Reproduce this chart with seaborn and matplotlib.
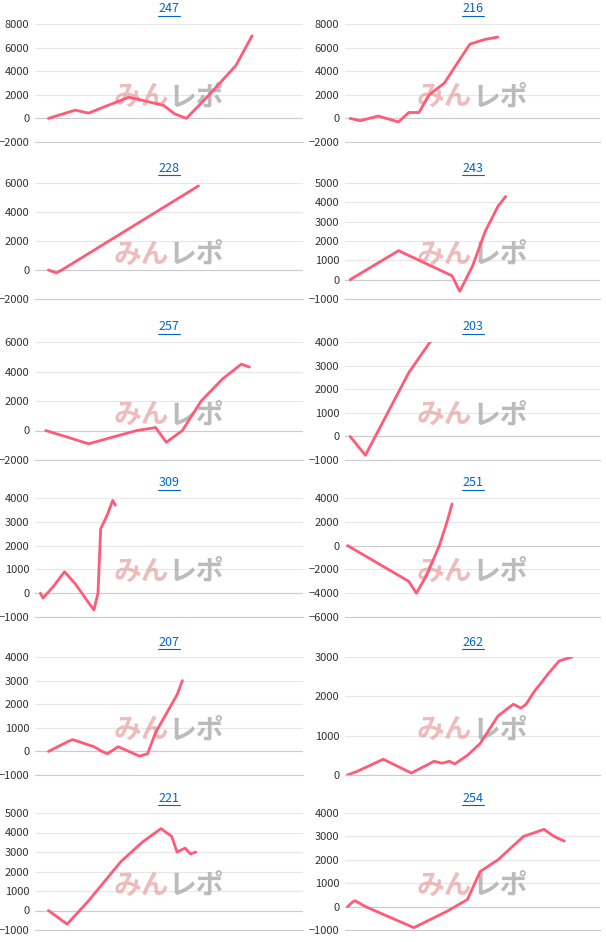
import matplotlib
matplotlib.use("Agg")
import matplotlib.pyplot as plt
import seaborn as sns
import pandas as pd

sns.set_style("white")
plt.rcParams['font.family'] = ['Noto Sans CJK JP', 'DejaVu Sans']

# Datos (posición relativa en el eje x, diferencia de fichas)
titles = ["247", "216", "228", "243", "257", "203", "309", "251", "207", "262", "221", "254"]
x247 = [0.05, 0.15, 0.2, 0.35, 0.48, 0.52, 0.565, 0.65, 0.75, 0.81]
y247 = [0, 700, 450, 1800, 1100, 400, 0, 2000, 4500, 7000]
x216 = [0.02, 0.06, 0.13, 0.21, 0.25, 0.29, 0.33, 0.39, 0.45, 0.49, 0.55, 0.6]
y216 = [0, -200, 200, -300, 500, 500, 2000, 3000, 5000, 6300, 6700, 6900]
x228 = [0.05, 0.08, 0.1, 0.61]
y228 = [0, -200, 0, 5800]
x243 = [0.02, 0.21, 0.42, 0.45, 0.5, 0.55, 0.6, 0.63]
y243 = [0, 1500, 200, -600, 700, 2500, 3800, 4300]
x257 = [0.04, 0.13, 0.2, 0.28, 0.38, 0.45, 0.49, 0.55, 0.62, 0.7, 0.77, 0.8]
y257 = [0, -500, -900, -500, 0, 200, -800, 0, 2000, 3500, 4500, 4300]
x203 = [0.02, 0.08, 0.25, 0.34]
y203 = [0, -800, 2700, 4100]
x309 = [0.02, 0.03, 0.07, 0.11, 0.15, 0.2, 0.22, 0.235, 0.245, 0.27, 0.29, 0.3]
y309 = [0, -200, 300, 900, 400, -400, -700, 0, 2700, 3300, 3900, 3700]
x251 = [0.01, 0.25, 0.28, 0.32, 0.37, 0.4, 0.42]
y251 = [0, -3000, -4000, -2500, 0, 2000, 3500]
x207 = [0.05, 0.12, 0.14, 0.22, 0.25, 0.27, 0.31, 0.35, 0.39, 0.42, 0.45, 0.5, 0.53, 0.55]
y207 = [0, 400, 500, 200, 0, -100, 200, 0, -200, -100, 800, 1800, 2400, 3000]
x262 = [0.01, 0.05, 0.15, 0.26, 0.35, 0.38, 0.41, 0.43, 0.48, 0.53, 0.6, 0.66, 0.69, 0.71, 0.74, 0.8, 0.84, 0.89]
y262 = [0, 100, 400, 50, 350, 300, 350, 280, 500, 800, 1500, 1800, 1700, 1800, 2100, 2600, 2900, 3000]
x221 = [0.05, 0.12, 0.2, 0.32, 0.4, 0.47, 0.51, 0.53, 0.56, 0.58, 0.6]
y221 = [0, -700, 500, 2500, 3500, 4200, 3800, 3000, 3200, 2900, 3000]
x254 = [0.01, 0.03, 0.04, 0.08, 0.27, 0.4, 0.48, 0.53, 0.6, 0.7, 0.78, 0.82, 0.86]
y254 = [0, 200, 250, 0, -900, -200, 300, 1500, 2000, 3000, 3300, 3000, 2800]

series = [(x247, y247), (x216, y216), (x228, y228), (x243, y243), (x257, y257), (x203, y203),
          (x309, y309), (x251, y251), (x207, y207), (x262, y262), (x221, y221), (x254, y254)]
ylims = [(-2000, 8000, 2000), (-2000, 8000, 2000), (-2000, 6000, 2000), (-1000, 5000, 1000),
         (-2000, 6000, 2000), (-1000, 4000, 1000), (-1000, 4000, 1000), (-6000, 4000, 2000),
         (-1000, 4000, 1000), (0, 3000, 1000), (-1000, 5000, 1000), (-1000, 4000, 1000)]

fig = plt.figure(figsize=(6.06, 9.42), dpi=100)
W, H = 606, 942
rows = [(24, 142), (183, 299), (342, 460), (498, 617), (657, 775), (813, 930)]
cols = [(35, 303), (345, 600)]

for i, (xs, ys) in enumerate(series):
    r, c = divmod(i, 2)
    top, bot = rows[r]
    left, right = cols[c]
    ax = fig.add_axes([left / W, 1 - bot / H, (right - left) / W, (bot - top) / H])
    lo, hi, st = ylims[i]
    ax.set_ylim(lo, hi)
    ax.set_xlim(0, 1)
    ax.set_yticks(range(lo, hi + 1, st))
    ax.yaxis.grid(True, color="#e6e6e6", lw=0.8)
    ax.axhline(0, color="#cccccc", lw=0.8, zorder=1)
    df = pd.DataFrame({"x": xs, "y": ys})
    sns.lineplot(data=df, x="x", y="y", ax=ax, color="#ff5a78", lw=2, sort=False, zorder=3)
    ax.set_xlabel("")
    ax.set_ylabel("")
    ax.set_xticks([])
    ax.tick_params(axis="y", labelsize=8, length=0, pad=4, labelcolor="#333333")
    for s in ["top", "right", "left"]:
        ax.spines[s].set_visible(False)
    ax.spines["bottom"].set_color("#cccccc")
    # título azul subrayado
    cx = (left + right) / 2 / W
    ty = 1 - (top - 15) / H
    fig.text(cx, ty, titles[i], ha="center", va="center", fontsize=9, color="#0066cc")
    fig.add_artist(plt.Line2D([cx - 11 / W, cx + 11 / W], [ty - 7 / H, ty - 7 / H],
                              color="#0066cc", lw=0.8))
    # marca de agua
    ax.text(0.5, 0.38, "みん", transform=ax.transAxes, ha="right", va="center",
            fontsize=20, fontweight="bold", color="#e8a0a0", alpha=0.7, style="italic", zorder=2)
    ax.text(0.5, 0.38, "レポ", transform=ax.transAxes, ha="left", va="center",
            fontsize=20, fontweight="bold", color="#aaaaaa", alpha=0.8, style="italic", zorder=2)

fig.savefig("out.png", dpi=100)
